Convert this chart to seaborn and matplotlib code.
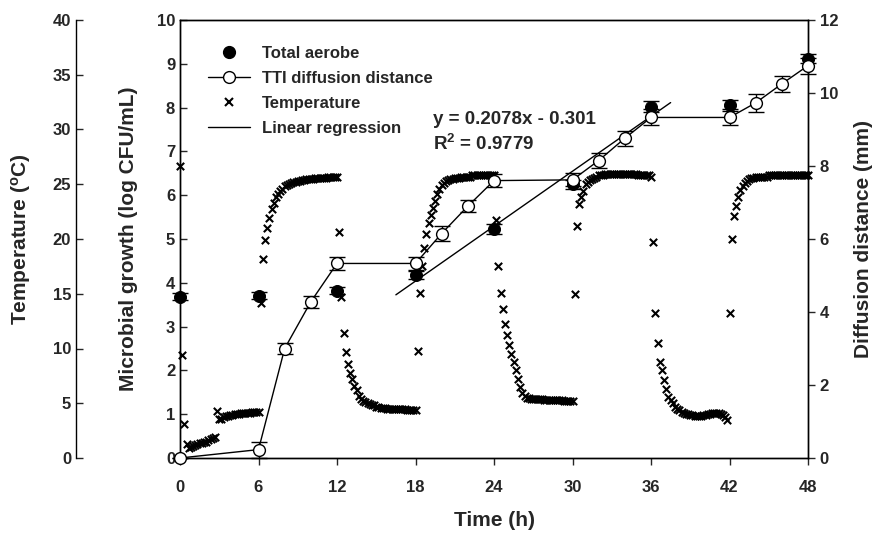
import numpy as np
import pandas as pd
import matplotlib
matplotlib.use('Agg')
import matplotlib.pyplot as plt
from matplotlib.lines import Line2D
import seaborn as sns

# Total aerobe counts (log CFU/mL) at each sampling time
sample_hours = [0, 6, 12, 18, 24, 30, 36, 42, 48]
aerobe = [3.68, 3.70, 3.82, 4.18, 5.23, 6.25, 8.02, 8.05, 9.12]
aerobe_err = [0.08, 0.08, 0.08, 0.10, 0.12, 0.10, 0.12, 0.12, 0.10]

# TTI diffusion distance (mm)
tti_hours = [0, 6, 8, 10, 12, 18, 20, 22, 24, 30, 32, 34, 36, 42, 44, 46, 48]
tti_mm = [0.0, 0.23, 3.0, 4.28, 5.33, 5.33, 6.15, 6.90, 7.60, 7.62, 8.15,
          8.76, 9.33, 9.33, 9.73, 10.25, 10.75]
tti_err = [0.0, 0.22, 0.15, 0.17, 0.18, 0.18, 0.2, 0.17, 0.18, 0.18, 0.2,
           0.2, 0.22, 0.22, 0.25, 0.22, 0.22]

# temperature log (deg C), logged every 10 min -> one row per hour
temp_c = [
    26.7, 9.4, 3.1, 1.3, 0.9, 1.0,
    1.1, 1.2, 1.3, 1.4, 1.4, 1.5,
    1.5, 1.6, 1.7, 1.8, 1.9, 4.3,
    3.6, 3.6, 3.7, 3.8, 3.8, 3.9,
    3.9, 4.0, 4.0, 4.0, 4.1, 4.1,
    4.1, 4.1, 4.1, 4.2, 4.2, 4.2,
    4.2, 14.2, 18.2, 19.9, 21.0, 21.9,
    22.7, 23.3, 23.8, 24.1, 24.4, 24.6,
    24.8, 24.9, 25.0, 25.1, 25.2, 25.2,
    25.3, 25.3, 25.4, 25.4, 25.5, 25.5,
    25.5, 25.5, 25.6, 25.6, 25.6, 25.6,
    25.6, 25.6, 25.7, 25.7, 25.7, 25.7,
    25.7, 20.6, 14.7, 11.4, 9.7, 8.6,
    7.8, 7.2, 6.6, 6.2, 5.7, 5.4,
    5.2, 5.1, 5.0, 4.9, 4.8, 4.8,
    4.7, 4.7, 4.6, 4.6, 4.6, 4.5,
    4.5, 4.5, 4.5, 4.5, 4.5, 4.5,
    4.5, 4.5, 4.4, 4.4, 4.4, 4.4,
    4.4, 9.8, 15.1, 17.5, 19.2, 20.5,
    21.5, 22.2, 22.8, 23.5, 24.1, 24.6,
    24.9, 25.1, 25.3, 25.4, 25.5, 25.5,
    25.6, 25.6, 25.6, 25.7, 25.7, 25.7,
    25.7, 25.7, 25.8, 25.8, 25.8, 25.8,
    25.8, 25.8, 25.8, 25.8, 25.8, 25.8,
    25.8, 21.7, 17.5, 15.1, 13.6, 12.2,
    11.2, 10.3, 9.5, 8.8, 8.0, 7.2,
    6.5, 5.9, 5.7, 5.5, 5.5, 5.4,
    5.4, 5.4, 5.4, 5.4, 5.4, 5.3,
    5.3, 5.3, 5.3, 5.3, 5.3, 5.3,
    5.3, 5.3, 5.2, 5.2, 5.2, 5.2,
    5.2, 15.0, 21.2, 23.2, 23.8, 24.4,
    25.0, 25.2, 25.4, 25.5, 25.6, 25.7,
    25.8, 25.8, 25.8, 25.9, 25.9, 25.9,
    25.9, 25.9, 25.9, 25.9, 25.9, 25.9,
    25.9, 25.9, 25.9, 25.9, 25.9, 25.9,
    25.8, 25.8, 25.8, 25.8, 25.8, 25.8,
    25.7, 19.7, 13.2, 10.5, 8.8, 8.0,
    7.1, 6.3, 5.6, 5.3, 5.0, 4.7,
    4.5, 4.4, 4.2, 4.1, 4.0, 4.0,
    3.9, 3.9, 3.8, 3.8, 3.8, 3.8,
    3.9, 3.9, 4.0, 4.0, 4.1, 4.1,
    4.1, 4.1, 4.0, 3.9, 3.7, 3.5,
    13.2, 20.0, 22.1, 23.0, 23.8, 24.5,
    24.8, 25.1, 25.3, 25.5, 25.6, 25.6,
    25.7, 25.7, 25.7, 25.7, 25.7, 25.7,
    25.8, 25.8, 25.8, 25.8, 25.8, 25.8,
    25.8, 25.8, 25.8, 25.8, 25.8, 25.8,
    25.8, 25.8, 25.8, 25.8, 25.8, 25.8,
    25.8,
]
temp_hours = np.arange(len(temp_c)) / 6.0

# regression of total aerobe over 18-36 h, drawn over this span
reg_fit_hours = [18, 24, 30, 36]
reg_span = [16.5, 37.5]

sns.set_style('ticks')
plt.rcParams['font.family'] = ['Liberation Sans', 'DejaVu Sans']
plt.rcParams['font.weight'] = 'bold'
plt.rcParams['axes.labelweight'] = 'bold'
plt.rcParams['mathtext.fontset'] = 'custom'
plt.rcParams['mathtext.rm'] = 'Liberation Sans:bold'
plt.rcParams['mathtext.bf'] = 'Liberation Sans:bold'
plt.rcParams['mathtext.it'] = 'Liberation Sans:bold'

fig = plt.figure(figsize=(8.75, 5.33), dpi=100)
ax = fig.add_axes([180 / 875, 1 - 458 / 533, 628 / 875, 438 / 533])
ax_t = ax.twinx()
ax_d = ax.twinx()

# total aerobe (filled circles)
ax.errorbar(sample_hours, aerobe, yerr=aerobe_err, fmt='none', ecolor='black',
            elinewidth=1, capsize=6, capthick=1, zorder=2, clip_on=False)
sns.scatterplot(x=sample_hours, y=aerobe, color='black', s=75, edgecolor='black',
                ax=ax, zorder=3, clip_on=False)

# linear regression
slope, icpt = np.polyfit(reg_fit_hours,
                         [aerobe[sample_hours.index(h)] for h in reg_fit_hours], 1)
reg_x = np.array(reg_span)
ax.plot(reg_x, slope * reg_x + icpt, color='black', lw=1)
ax.text(19.3, 7.73, 'y = 0.2078x - 0.301', fontsize=13.5, fontweight='bold', va='center')
ax.text(19.3, 7.17, 'R$^2$ = 0.9779', fontsize=13.5, fontweight='bold', va='center')

# temperature (x markers)
sns.scatterplot(x=temp_hours, y=temp_c, marker='x', color='black', s=28,
                linewidth=1.5, ax=ax_t, clip_on=False)

# TTI diffusion distance
ax_d.errorbar(tti_hours, tti_mm, yerr=tti_err, fmt='none', ecolor='black',
              elinewidth=1, capsize=6, capthick=1, zorder=2, clip_on=False)
sns.lineplot(x=tti_hours, y=tti_mm, color='black', lw=1, marker='o', ms=8.5,
             markerfacecolor='white', markeredgecolor='black', markeredgewidth=1,
             ax=ax_d, zorder=3, clip_on=False)

# axes
ax.set_xlim(0, 48)
ax.set_ylim(0, 10)
ax.set_xticks(range(0, 49, 6))
ax.set_yticks(range(0, 11))
ax.tick_params(axis='y', direction='in', length=5, width=1, labelsize=12)
ax.tick_params(axis='x', direction='out', length=5, width=1, labelsize=12, pad=11)
ax.set_xlabel('Time (h)', fontsize=15)
ax.set_ylabel('Microbial growth (log CFU/mL)', fontsize=15)
ax.yaxis.set_label_coords((138 - 180) / 628, 0.5)
ax.xaxis.set_label_coords(0.5, (458 - 511) / 438)

ax_t.set_ylim(0, 40)
ax_t.set_yticks(range(0, 41, 5))
ax_t.spines['left'].set_position(('axes', -104 / 628))
ax_t.spines['left'].set_visible(True)
for s in ['right', 'top', 'bottom']:
    ax_t.spines[s].set_visible(False)
ax_t.yaxis.set_ticks_position('left')
ax_t.yaxis.set_label_position('left')
ax_t.tick_params(axis='y', direction='in', length=5, width=1, labelsize=12)
ax_t.set_ylabel('Temperature ($^\\mathrm{o}$C)', fontsize=15)
ax_t.yaxis.set_label_coords((33 - 180) / 628, 0.5)

ax_d.set_ylim(0, 12)
ax_d.set_yticks(range(0, 13, 2))
ax_d.tick_params(axis='y', direction='out', length=5, width=1, labelsize=12)
ax_d.set_ylabel('Diffusion distance (mm)', fontsize=15)
ax_d.yaxis.set_label_coords((854 - 180) / 628, 0.5)

for a in (ax, ax_t, ax_d):
    for s in a.spines.values():
        s.set_linewidth(1)
        s.set_color('black')

# legend
handles = [
    Line2D([], [], ls='none', marker='o', color='black', ms=8.5),
    Line2D([], [], color='black', lw=1, marker='o', ms=8.5, markerfacecolor='white'),
    Line2D([], [], ls='none', marker='x', color='black', ms=5.5, mew=1.5),
    Line2D([], [], color='black', lw=1),
]
labels = ['Total aerobe', 'TTI diffusion distance', 'Temperature', 'Linear regression']
ax_d.legend(handles, labels, loc='upper left', bbox_to_anchor=(0.045, 0.941),
            frameon=False, fontsize=12, handlelength=2.5, handletextpad=0.7,
            labelspacing=0.6, borderaxespad=0, borderpad=0)

fig.savefig('out.png', dpi=100)
